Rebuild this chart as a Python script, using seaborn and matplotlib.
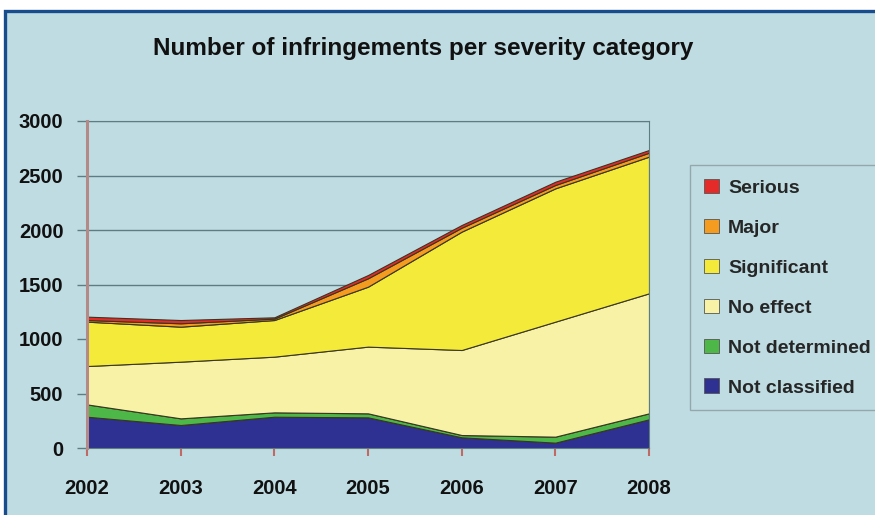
import matplotlib
matplotlib.use("Agg")
import matplotlib.pyplot as plt
from matplotlib import font_manager
from matplotlib.patches import Patch, Rectangle
import pandas as pd
import seaborn as sns


YEARS = [2002, 2003, 2004, 2005, 2006, 2007, 2008]

NOT_CLASSIFIED = [287, 211, 287, 281, 98, 49, 263]
NOT_DETERMINED = [113, 61, 40, 37, 21, 55, 55]
NO_EFFECT = [352, 520, 511, 612, 780, 1055, 1101]
SIGNIFICANT = [407, 321, 336, 550, 1086, 1223, 1254]
MAJOR = [15, 31, 13, 77, 36, 31, 36]
SERIOUS = [31, 30, 12, 30, 25, 30, 25]

SERIES_NAMES = ["Not classified", "Not determined", "No effect", "Significant", "Major", "Serious"]
SERIES_COLORS = ["#2E3192", "#4DB848", "#F7F2A5", "#F3EA3A", "#F39C1F", "#E52A2A"]

Y_TICKS = [0, 500, 1000, 1500, 2000, 2500, 3000]
TITLE = "Number of infringements per severity category"

BG = "#BFDCE2"
GRID = "#5E7C83"


def pick_font():
    names = {f.name for f in font_manager.fontManager.ttflist}
    for name in ["Liberation Sans Narrow", "Liberation Sans", "DejaVu Sans"]:
        if name in names:
            return name
    return "DejaVu Sans"


def main():
    sns.set_theme(style="white")
    font = pick_font()
    plt.rcParams["font.family"] = [font, "DejaVu Sans"]

    df = pd.DataFrame(
        {
            "Year": YEARS,
            "Not classified": NOT_CLASSIFIED,
            "Not determined": NOT_DETERMINED,
            "No effect": NO_EFFECT,
            "Significant": SIGNIFICANT,
            "Major": MAJOR,
            "Serious": SERIOUS,
        }
    )

    fig = plt.figure(figsize=(8.75, 5.15), dpi=100, facecolor="white")
    W, H = 875, 515
    # blue framed panel behind everything
    frame = Rectangle(
        (5 / W, -0.05), 1.2, 1 - 11 / H + 0.05,
        transform=fig.transFigure, facecolor=BG, edgecolor="#184C8C",
        linewidth=2.4, zorder=-10,
    )
    fig.patches.append(frame)

    ax = fig.add_axes([87 / W, 1 - 448 / H, (649 - 87) / W, (448 - 121) / H])
    ax.set_zorder(1)
    ax.set_facecolor("none")

    ax.stackplot(
        df["Year"],
        [df[name] for name in SERIES_NAMES],
        colors=SERIES_COLORS,
        edgecolor="#3A3520",
        linewidth=0.8,
        zorder=2,
    )

    ax.set_xlim(2002, 2008)
    ax.set_ylim(0, 3000)
    ax.set_xticks(YEARS)
    ax.set_xticklabels([str(y) for y in YEARS])
    ax.set_yticks(Y_TICKS)
    ax.set_yticklabels([str(v) for v in Y_TICKS])

    ax.set_axisbelow(True)
    ax.yaxis.grid(True, color=GRID, linewidth=1.0)
    ax.xaxis.grid(False)

    for side in ["top", "right", "bottom"]:
        ax.spines[side].set_visible(True)
        ax.spines[side].set_color(GRID)
        ax.spines[side].set_linewidth(0.8)
    ax.spines["left"].set_color("#B48A88")
    ax.spines["left"].set_linewidth(2.2)
    ax.spines["left"].set_zorder(3)

    ax.tick_params(axis="y", length=7, width=1.0, color=GRID, pad=10,
                   labelsize=14.5, direction="out", left=True)
    ax.tick_params(axis="x", length=6, width=1.5, color="#C06A66", pad=16,
                   labelsize=14.5, direction="out", bottom=True)
    for lab in ax.get_xticklabels() + ax.get_yticklabels():
        lab.set_fontweight("bold")
        lab.set_color("#111111")

    fig.text(423 / W, 1 - 48 / H, TITLE, ha="center", va="center",
             fontsize=17.5, fontweight="bold", color="#111111")

    handles = [
        Patch(facecolor=c, edgecolor="#555555", linewidth=0.6, label=n)
        for n, c in zip(SERIES_NAMES, SERIES_COLORS)
    ][::-1]
    leg = fig.legend(
        handles=handles,
        loc="upper left",
        bbox_to_anchor=(690 / W, 1 - 165 / H),
        frameon=True,
        fancybox=False,
        handlelength=0.8,
        handleheight=0.8,
        handletextpad=0.45,
        labelspacing=1.12,
        borderpad=0.7,
        borderaxespad=0,
        prop={"weight": "bold", "size": 14},
    )
    leg.get_frame().set_facecolor(BG)
    leg.get_frame().set_edgecolor("#8A9C9E")
    leg.get_frame().set_linewidth(1.0)

    fig.savefig("out.png", dpi=100, facecolor="white")
    plt.close(fig)


if __name__ == "__main__":
    main()
